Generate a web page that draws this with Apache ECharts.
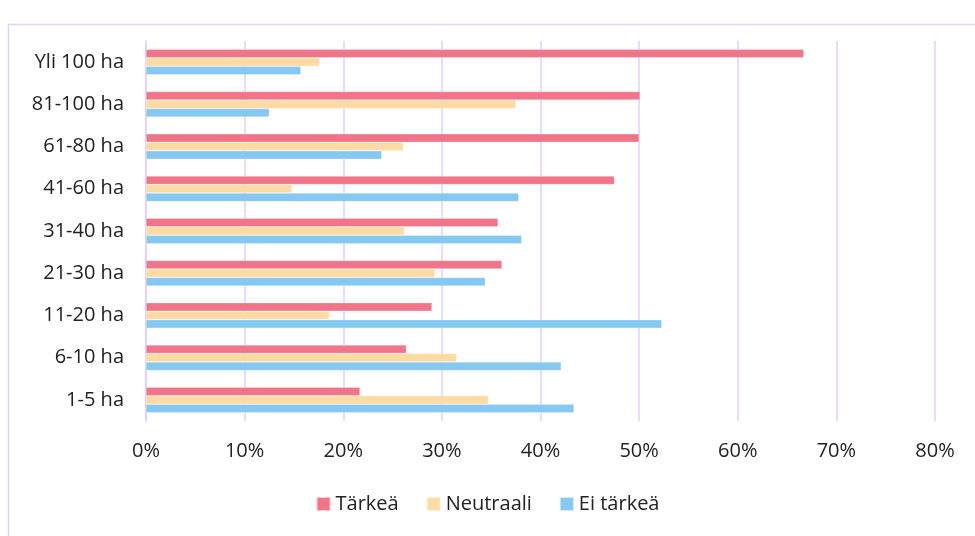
<html>
<head>
<meta charset="utf-8">
<script src="https://cdn.jsdelivr.net/npm/echarts@6/dist/echarts.min.js"></script>
</head>
<body>
<style>
    html, body, #main {
        width: 100%;
        height: 100%;
        margin: 0;
    }
</style>
<div id="main"></div>
<script>
    var chart = echarts.init(document.getElementById('main'));

    // bottom to top, as ECharts draws a category y axis
    var categories = ['1-5 ha', '6-10 ha', '11-20 ha', '21-30 ha', '31-40 ha', '41-60 ha', '61-80 ha', '81-100 ha', 'Yli 100 ha'];
    var tarkea = [21.7, 26.4, 29.0, 36.1, 35.7, 47.5, 50.0, 50.1, 66.7];
    var neutraali = [34.7, 31.5, 18.6, 29.3, 26.2, 14.8, 26.1, 37.5, 17.6];
    var eiTarkea = [43.4, 42.1, 52.3, 34.4, 38.1, 37.8, 23.9, 12.5, 15.7];

    var font = '"Open Sans", Lato, sans-serif';
    var gridColor = '#E6CCFF';

    function bar(name, data, color) {
        return {
            name: name,
            type: 'bar',
            data: data,
            barWidth: 8.5,
            barGap: '0%',
            itemStyle: { color: color, borderColor: 'rgba(255,255,255,0.6)', borderWidth: 0.5 }
        };
    }

    var option = {
        animation: false,
        textStyle: { fontFamily: font },
        graphic: [{
            type: 'rect',
            shape: { x: 8.5, y: 24.5, width: 980, height: 530 },
            style: { fill: 'none', stroke: gridColor, lineWidth: 1.5 },
            silent: true
        }],
        grid: { left: 146, right: 40, top: 41, bottom: 115, containLabel: false },
        legend: {
            bottom: 17,
            left: 'center',
            itemWidth: 14,
            itemHeight: 14,
            itemGap: 27,
            icon: 'rect',
            textStyle: { fontSize: 20, color: '#222', fontFamily: font },
            data: ['Tärkeä', 'Neutraali', 'Ei tärkeä']
        },
        xAxis: {
            type: 'value',
            min: 0,
            max: 80,
            interval: 10,
            axisLine: { show: false },
            axisTick: { show: false },
            splitLine: { lineStyle: { color: gridColor, width: 1.5 } },
            axisLabel: { formatter: '{value}%', fontSize: 20, color: '#222', margin: 20 }
        },
        yAxis: {
            type: 'category',
            data: categories,
            axisLine: { lineStyle: { color: gridColor, width: 1.5 } },
            axisTick: { show: false },
            axisLabel: { fontSize: 20, color: '#222', margin: 22 }
        },
        series: [
            bar('Tärkeä', tarkea, '#F17589'),
            bar('Neutraali', neutraali, '#FFDBA3'),
            bar('Ei tärkeä', eiTarkea, '#85C8F1')
        ]
    };

    chart.setOption(option);
    window.onresize = chart.resize;
</script>
</body>
</html>
